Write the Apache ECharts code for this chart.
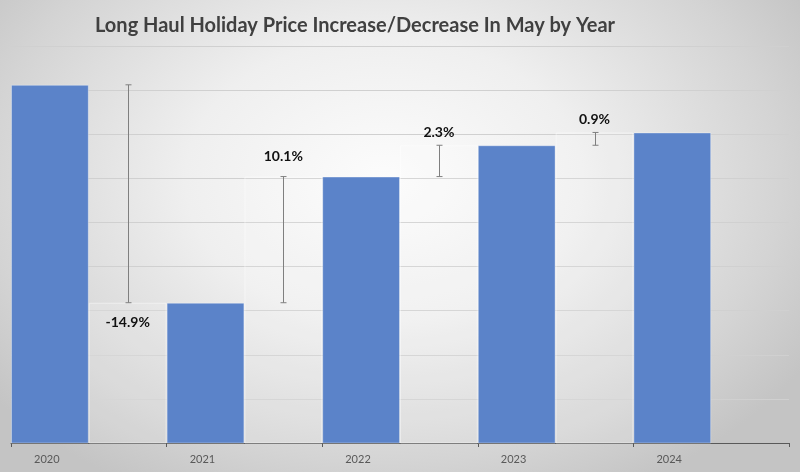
<!DOCTYPE html>
<html>
<head>
<meta charset="utf-8">
<script src="https://cdn.jsdelivr.net/npm/echarts@6/dist/echarts.min.js"></script>
<style>
html,body{margin:0;padding:0;}
#c{width:800px;height:472px;background:radial-gradient(ellipse 62% 75% at 48% 38%, #fcfcfc 0%, #efefef 40%, #d4d4d4 80%, #c4c4c4 100%);}
</style>
</head>
<body>
<div id="c"></div>
<script>
const categories = ['2020', '2021', '2022', '2023', '2024'];
const prices = [3312, 2818, 3104, 3175, 3204];
const changeLabels = ['-14.9%', '10.1%', '2.3%', '0.9%'];
const yTicks = { min: 2500, max: 3400, interval: 100 };

const gapData = categories.map(function (c, i) {
  if (i >= prices.length - 1) return '-';
  const up = prices[i + 1] >= prices[i];
  return {
    value: prices[i + 1],
    label: {
      show: true,
      formatter: changeLabels[i],
      position: up ? 'top' : 'insideTop',
      distance: up ? (i === 1 ? 13 : 6) : 13
    }
  };
});
const errData = [];
for (let i = 0; i < prices.length - 1; i++) errData.push([i, prices[i], prices[i + 1]]);

const chart = echarts.init(document.getElementById('c'), null, { renderer: 'canvas' });
chart.setOption({
  backgroundColor: 'transparent',
  animation: false,
  title: {
    text: 'Long Haul Holiday Price Increase/Decrease In May by Year',
    left: 90, top: 11,
    textStyle: { fontFamily: 'Lato', fontWeight: 'bold', fontSize: 20, color: '#404040' }
  },
  grid: { left: 11, right: 11, top: 46, bottom: 29 },
  xAxis: {
    type: 'category',
    data: categories,
    boundaryGap: true,
    axisLine: { lineStyle: { color: '#595959', width: 1 } },
    axisTick: { show: true, length: 4, alignWithLabel: false, lineStyle: { color: '#595959' } },
    axisLabel: { color: '#595959', fontSize: 11, fontFamily: 'Lato', margin: 11, padding: [0, 84, 0, 0] }
  },
  yAxis: {
    type: 'value',
    min: yTicks.min, max: yTicks.max, interval: yTicks.interval,
    axisLabel: { show: false },
    axisLine: { show: false },
    axisTick: { show: false },
    splitLine: { lineStyle: { color: '#d0d0d0', width: 1 } }
  },
  series: [
    {
      name: 'Price', type: 'bar', data: prices,
      barGap: '0%', barCategoryGap: '0%',
      itemStyle: { color: '#5b83c9', borderColor: 'rgba(255,255,255,0.35)', borderWidth: 1 }
    },
    {
      name: 'Change', type: 'bar', data: gapData,
      barGap: '0%', barCategoryGap: '0%',
      itemStyle: { color: 'rgba(255,255,255,0.14)', borderColor: 'rgba(255,255,255,0.45)', borderWidth: 1 },
      label: { color: '#111', fontWeight: 'bold', fontSize: 14, fontFamily: 'Lato' }
    },
    {
      name: 'Err', type: 'custom', data: errData, z: 5,
      renderItem: function (params, api) {
        const a = api.coord([api.value(0), api.value(1)]);
        const b = api.coord([api.value(0), api.value(2)]);
        const bw = api.size([1, 0])[0];
        const x = Math.round(a[0] + bw / 4) + 0.5;
        const st = { stroke: '#7f7f7f', lineWidth: 1 };
        return {
          type: 'group',
          children: [
            { type: 'line', shape: { x1: x, y1: a[1], x2: x, y2: b[1] }, style: st },
            { type: 'line', shape: { x1: x - 3, y1: a[1], x2: x + 3, y2: a[1] }, style: st },
            { type: 'line', shape: { x1: x - 3, y1: b[1], x2: x + 3, y2: b[1] }, style: st }
          ]
        };
      }
    }
  ]
});
</script>
</body>
</html>
